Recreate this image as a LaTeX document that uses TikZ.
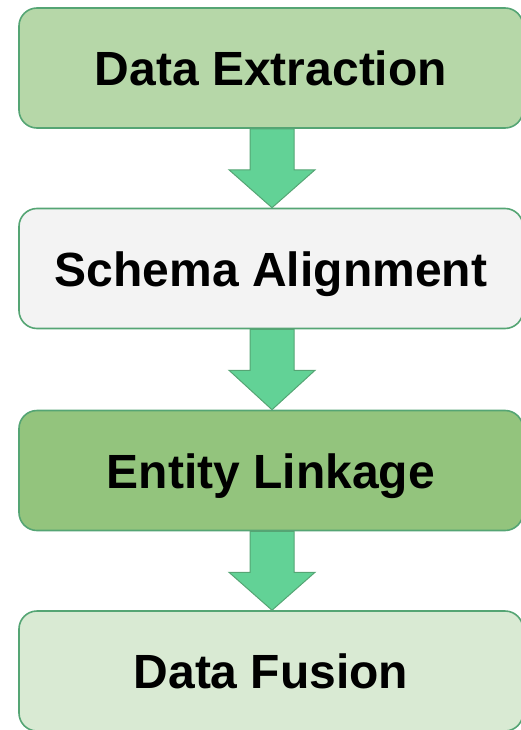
\documentclass[tikz,border=0pt]{standalone}
\usepackage{fontspec}
\setmainfont{Liberation Sans}
\usetikzlibrary{calc}

\definecolor{edgegreen}{HTML}{55A574}
\definecolor{fillA}{HTML}{B6D7A8}
\definecolor{fillB}{HTML}{F3F3F3}
\definecolor{fillC}{HTML}{93C47D}
\definecolor{fillD}{HTML}{D9EAD3}
\definecolor{arrowfill}{HTML}{62D296}

\tikzset{
  stage/.style={draw=edgegreen, line width=1.6pt, rounded corners=18pt,
    minimum width=504pt, minimum height=120pt, inner sep=0pt,
    text height=35pt, text depth=0pt,
    font=\fontsize{48}{50}\selectfont\bfseries},
  flowarrow/.style={fill=arrowfill, draw=edgegreen, line width=1pt, line join=miter}
}

\newcommand{\blockarrow}[2]{%
  \draw[flowarrow]
    ($(#1.south)+(-21,0)$) -- ($(#1.south)+(-21,-41)$) --
    ($(#1.south)+(-42,-41)$) -- ($(#2.north)+(1,0)$) --
    ($(#1.south)+(44,-41)$) -- ($(#1.south)+(23,-41)$) --
    ($(#1.south)+(23,0)$) -- cycle;}

\begin{document}
\begin{tikzpicture}[x=1pt,y=1pt]
  \useasboundingbox (0,0) rectangle (520,-730);

  \node[stage, fill=fillA] (extract) at (271,-68)    {Data Extraction};
  \node[stage, fill=fillB] (align)   at (271,-268.5) {Schema Alignment};
  \node[stage, fill=fillC] (link)    at (271,-470.5) {Entity Linkage};
  \node[stage, fill=fillD] (fuse)    at (271,-671)   {Data Fusion};

  \blockarrow{extract}{align}
  \blockarrow{align}{link}
  \blockarrow{link}{fuse}
\end{tikzpicture}
\end{document}
